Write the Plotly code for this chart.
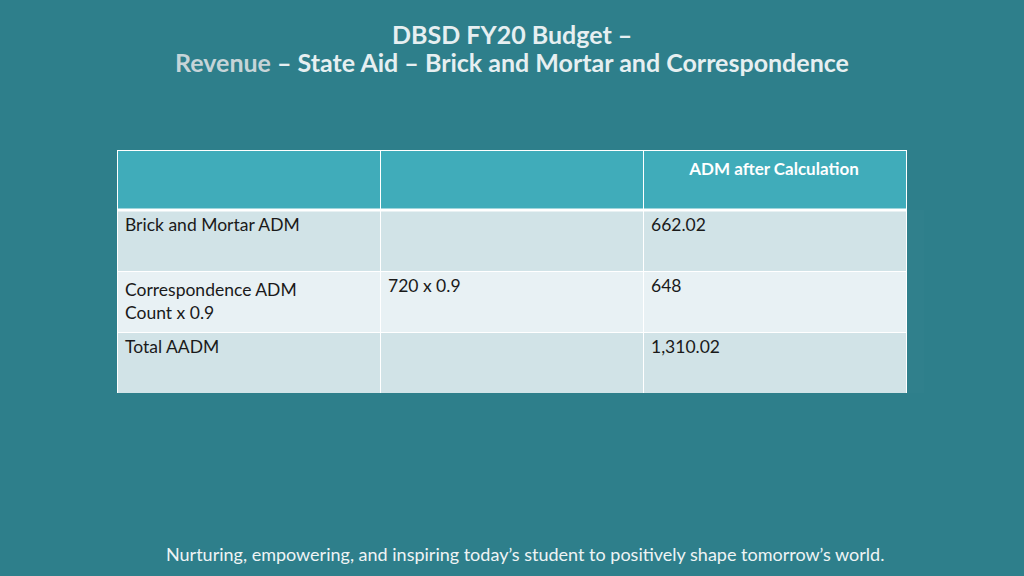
import plotly.graph_objects as go

header_labels = ["", "", "<b>ADM after Calculation</b>"]
row_labels = ["Brick and Mortar ADM", "Correspondence ADM<br>Count x 0.9", "Total AADM"]
calc_col = ["", "720 x 0.9", ""]
adm_values = ["662.02", "648", "1,310.02"]

BG = "#2E7F8B"
HEADER = "#40ACBA"
ROW_A = "#D1E3E7"
ROW_B = "#E8F1F4"
FONT = "Lato"

fig = go.Figure()
fig.add_trace(go.Table(
    domain=dict(x=[117/1024, 906/1024], y=[1 - 394/576, 1 - 150/576]),
    columnwidth=[1, 1, 1],
    header=dict(
        values=header_labels,
        fill_color=HEADER,
        line=dict(color="white", width=1),
        align=["left", "left", "center"],
        font=dict(family=FONT, size=17, color="white"),
        height=60,
    ),
    cells=dict(
        values=[row_labels, calc_col, adm_values],
        fill_color=[[ROW_A, ROW_B, ROW_A]] * 3,
        line=dict(color="white", width=1),
        align="left",
        font=dict(family=FONT, size=17.5, color="#1A1A1A"),
        height=61,
    ),
))

fig.add_shape(type="line", xref="paper", yref="paper",
              x0=117/1024, x1=906/1024, y0=1 - 210/576, y1=1 - 210/576,
              line=dict(color="white", width=3))

fig.add_annotation(
    text="<b>DBSD FY20 Budget –</b>",
    xref="paper", yref="paper", x=0.5, y=1 - 34/576,
    showarrow=False, xanchor="center", yanchor="middle",
    font=dict(family=FONT, size=25, color="#E6EFF1"),
)
fig.add_annotation(
    text="<b><span style='color:#C6D4D8'>Revenue</span> – State Aid – Brick and Mortar and Correspondence</b>",
    xref="paper", yref="paper", x=0.5, y=1 - 62/576,
    showarrow=False, xanchor="center", yanchor="middle",
    font=dict(family=FONT, size=25, color="#E6EFF1"),
)
fig.add_annotation(
    text="Nurturing, empowering, and inspiring today’s student to positively shape tomorrow’s world.",
    xref="paper", yref="paper", x=525/1024, y=1 - 554/576,
    showarrow=False, xanchor="center", yanchor="middle",
    font=dict(family=FONT, size=18, color="#EEF4F5"),
)

fig.update_layout(
    width=1024, height=576,
    margin=dict(l=0, r=0, t=0, b=0),
    paper_bgcolor=BG, plot_bgcolor=BG,
    showlegend=False,
)
fig.write_html("out.html", config={"displayModeBar": False},
               post_script="document.body.style.margin='0';document.body.style.background='#2E7F8B';")
